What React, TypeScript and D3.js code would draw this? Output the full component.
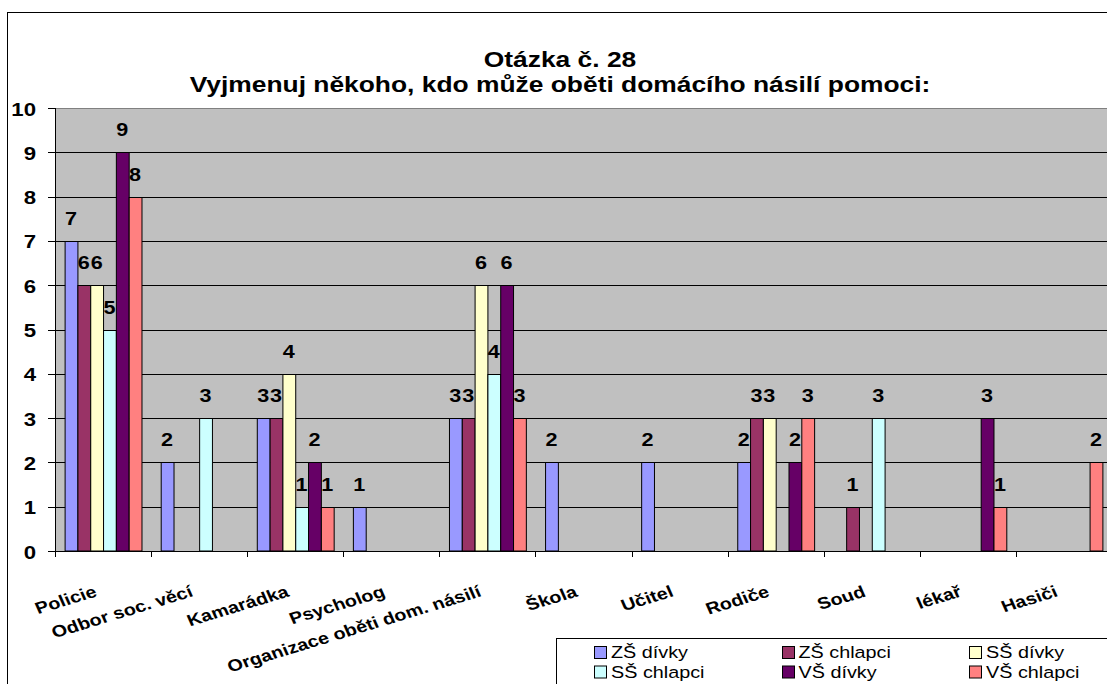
import React from 'react';
import * as d3 from 'd3';

const categories = [
  'Policie',
  'Odbor soc. věcí',
  'Kamarádka',
  'Psycholog',
  'Organizace oběti dom. násilí',
  'Škola',
  'Učitel',
  'Rodiče',
  'Soud',
  'lékař',
  'Hasiči',
];

const seriesNames = ['ZŠ dívky', 'ZŠ chlapci', 'SŠ dívky', 'SŠ chlapci', 'VŠ dívky', 'VŠ chlapci'];

const zsDivky = [7, 2, 3, 1, 3, 2, 2, 2, 0, 0, 0];
const zsChlapci = [6, 0, 3, 0, 3, 0, 0, 3, 1, 0, 0];
const ssDivky = [6, 0, 4, 0, 6, 0, 0, 3, 0, 0, 0];
const ssChlapci = [5, 3, 1, 0, 4, 0, 0, 0, 3, 0, 0];
const vsDivky = [9, 0, 2, 0, 6, 0, 0, 2, 0, 3, 0];
const vsChlapci = [8, 0, 1, 0, 3, 0, 0, 3, 0, 1, 2];

const seriesColors = ['#9999FF', '#993366', '#FFFFCC', '#CCFFFF', '#660066', '#FF8080'];
const yTicks = [0, 1, 2, 3, 4, 5, 6, 7, 8, 9, 10];

const titleLines = ['Otázka č. 28', 'Vyjmenuj někoho, kdo může oběti domácího násilí pomoci:'];

const FONT = '"Liberation Sans", Arial, sans-serif';
// text in the original is stretched horizontally
const SX = 1.2;

export default function App() {
  const width = 1107;
  const height = 684;
  const plot = { left: 55, top: 108, right: 1112, bottom: 551 };

  const values = [zsDivky, zsChlapci, ssDivky, ssChlapci, vsDivky, vsChlapci];

  const x0 = d3.scaleBand<string>()
    .domain(categories)
    .range([plot.left, plot.right])
    .paddingInner(0.2)
    .paddingOuter(0.1);

  const x1 = d3.scaleBand<string>()
    .domain(seriesNames)
    .range([0, x0.bandwidth()])
    .padding(0);

  const y = d3.scaleLinear().domain([0, 10]).range([plot.bottom, plot.top]);

  const crisp = (v: number) => Math.round(v) + 0.5;
  const step = x0.step();
  const boundaries = d3.range(categories.length + 1).map(i => plot.left + i * step);

  return (
    <svg
      width={width}
      height={height}
      style={{ position: 'absolute', left: 0, top: 0, background: '#fff' }}
      fontFamily={FONT}
    >
      {/* chart frame */}
      <rect x={7.5} y={12.5} width={1300} height={900} fill="#fff" stroke="#000" />

      {/* title */}
      {titleLines.map((t, i) => (
        <text
          key={t}
          transform={`translate(560,${67 + i * 25}) scale(${SX},1)`}
          textAnchor="middle"
          fontWeight="bold"
          fontSize={22}
          fill="#000"
        >
          {t}
        </text>
      ))}

      {/* plot area */}
      <rect
        x={plot.left + 0.5}
        y={plot.top + 0.5}
        width={plot.right - plot.left}
        height={plot.bottom - plot.top}
        fill="#C0C0C0"
        stroke="#808080"
      />

      {/* gridlines */}
      {yTicks.slice(1, -1).map(t => (
        <line
          key={t}
          x1={plot.left}
          x2={plot.right}
          y1={crisp(y(t))}
          y2={crisp(y(t))}
          stroke="#000"
        />
      ))}

      {/* bars */}
      {categories.map((c, ci) => (
        <g key={c} transform={`translate(${x0(c)},0)`}>
          {seriesNames.map((s, si) => {
            const v = values[si][ci];
            if (!v) return null;
            return (
              <rect
                key={s}
                x={(x1(s) as number) + 0.5}
                y={crisp(y(v))}
                width={x1.bandwidth()}
                height={y(0) - crisp(y(v))}
                fill={seriesColors[si]}
                stroke="#000"
              />
            );
          })}
        </g>
      ))}

      {/* data labels */}
      {categories.map((c, ci) =>
        seriesNames.map((s, si) => {
          const v = values[si][ci];
          if (!v) return null;
          const cx = (x0(c) as number) + (x1(s) as number) + x1.bandwidth() / 2;
          return (
            <text
              key={c + s}
              transform={`translate(${cx},${y(v) - 16}) scale(${SX},1)`}
              textAnchor="middle"
              fontWeight="bold"
              fontSize={18}
              fill="#000"
            >
              {v}
            </text>
          );
        })
      )}

      {/* axes */}
      <line x1={crisp(plot.left)} x2={crisp(plot.left)} y1={plot.top} y2={plot.bottom + 6} stroke="#000" />
      <line x1={plot.left} x2={plot.right} y1={crisp(plot.bottom)} y2={crisp(plot.bottom)} stroke="#000" />
      {yTicks.map(t => (
        <g key={t}>
          <line x1={plot.left - 7} x2={plot.left} y1={crisp(y(t))} y2={crisp(y(t))} stroke="#000" />
          <text
            transform={`translate(36,${y(t) + 7.5}) scale(${SX},1)`}
            textAnchor="end"
            fontWeight="bold"
            fontSize={18.5}
            fill="#000"
          >
            {t}
          </text>
        </g>
      ))}
      {boundaries.map((b, i) => (
        <line key={i} x1={crisp(b)} x2={crisp(b)} y1={plot.bottom} y2={plot.bottom + 6} stroke="#000" />
      ))}

      {/* category labels */}
      {categories.map(c => {
        const cx = (x0(c) as number) + x0.bandwidth() / 2;
        return (
          <text
            key={c}
            transform={`translate(${cx - 5},596) scale(${SX},1) rotate(-20)`}
            textAnchor="end"
            fontWeight="bold"
            fontSize={16.5}
            fill="#000"
          >
            {c}
          </text>
        );
      })}

      {/* legend */}
      <rect x={556.5} y={638.5} width={700} height={100} fill="#fff" stroke="#000" />
      {seriesNames.map((s, i) => {
        const col = i % 3;
        const row = Math.floor(i / 3);
        const lx = 594 + col * 187.5;
        const ly = 658 + row * 19.5;
        return (
          <g key={s}>
            <rect x={Math.round(lx) + 0.5} y={ly - 11.5} width={12} height={12} fill={seriesColors[i]} stroke="#000" />
            <text
              transform={`translate(${lx + 17},${ly}) scale(${SX},1)`}
              fontSize={16.5}
              fill="#000"
            >
              {s}
            </text>
          </g>
        );
      })}
    </svg>
  );
}
